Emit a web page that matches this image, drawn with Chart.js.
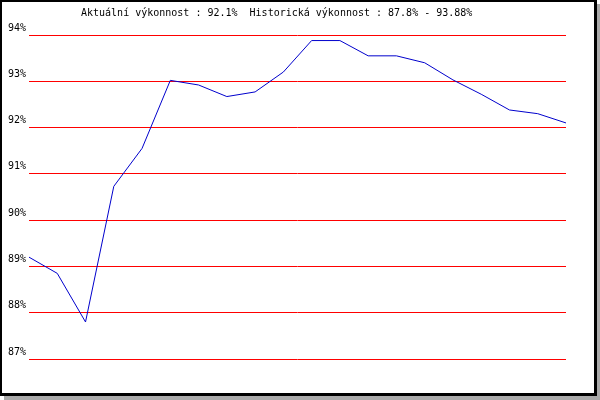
<!DOCTYPE html>
<html>
<head>
<meta charset="utf-8">
<script src="https://cdn.jsdelivr.net/npm/chart.js@4"></script>
<style>
  body { margin: 0; background: #fff; }
  #frame {
    position: absolute;
    left: 0;
    top: 0;
    width: 592px;
    height: 391px;
    border-left: 2px solid #000;
    border-top: 2px solid #000;
    border-right: 3px solid #000;
    border-bottom: 3px solid #000;
    box-shadow: 4px 4px 0 #aaaaaa;
    background: #fff;
  }
  canvas { display: block; }
</style>
</head>
<body>
<div id="frame"><canvas id="myChart" width="592" height="391"></canvas></div>
<script>
// Data
const titleText = 'Aktuální výkonnost : 92.1%  Historická výkonnost : 87.8% - 93.88%'
const points = ['1', '2', '3', '4', '5', '6', '7', '8', '9', '10',
  '11', '12', '13', '14', '15', '16', '17', '18', '19', '20']
const vykonnost = [89.2, 88.85, 87.8, 90.73, 91.55, 93.02, 92.92, 92.67, 92.77, 93.2,
  93.88, 93.88, 93.55, 93.55, 93.4, 93.03, 92.72, 92.38, 92.3, 92.1]
const yMin = 87
const yMax = 94

const monoFont = "'DejaVu Sans Mono', monospace"

// title is not centred in the original, draw it by hand
const titlePlugin = {
  id: 'leftTitle',
  afterDraw(chart) {
    const ctx = chart.ctx
    ctx.save()
    ctx.font = '10px ' + monoFont
    ctx.fillStyle = '#000'
    ctx.textAlign = 'left'
    ctx.textBaseline = 'alphabetic'
    ctx.fillText(titleText, 79, 14)
    ctx.restore()
  },
}

const config = {
  type: 'line',
  data: {
    labels: points,
    datasets: [
      {
        data: vykonnost,
        borderColor: '#0000cc',
        borderWidth: 1,
        pointRadius: 0,
        tension: 0,
        fill: false,
      },
    ],
  },
  options: {
    responsive: false,
    animation: false,
    layout: {
      padding: { top: 33, right: 28, bottom: 34, left: 0 },
    },
    plugins: {
      legend: { display: false },
      tooltip: { enabled: false },
      title: { display: false },
    },
    scales: {
      x: {
        display: false,
      },
      y: {
        min: yMin,
        max: yMax,
        afterFit: (axis) => {
          axis.width = 27
        },
        border: { display: false },
        grid: {
          color: '#ff0000',
          lineWidth: 1,
          drawTicks: false,
        },
        ticks: {
          stepSize: 1,
          padding: 3,
          labelOffset: -7,
          color: '#000',
          font: { family: monoFont, size: 10 },
          callback: (value) => value + '%',
        },
      },
    },
  },
  plugins: [titlePlugin],
}

var myChart = new Chart(document.getElementById('myChart'), config)
</script>
</body>
</html>
